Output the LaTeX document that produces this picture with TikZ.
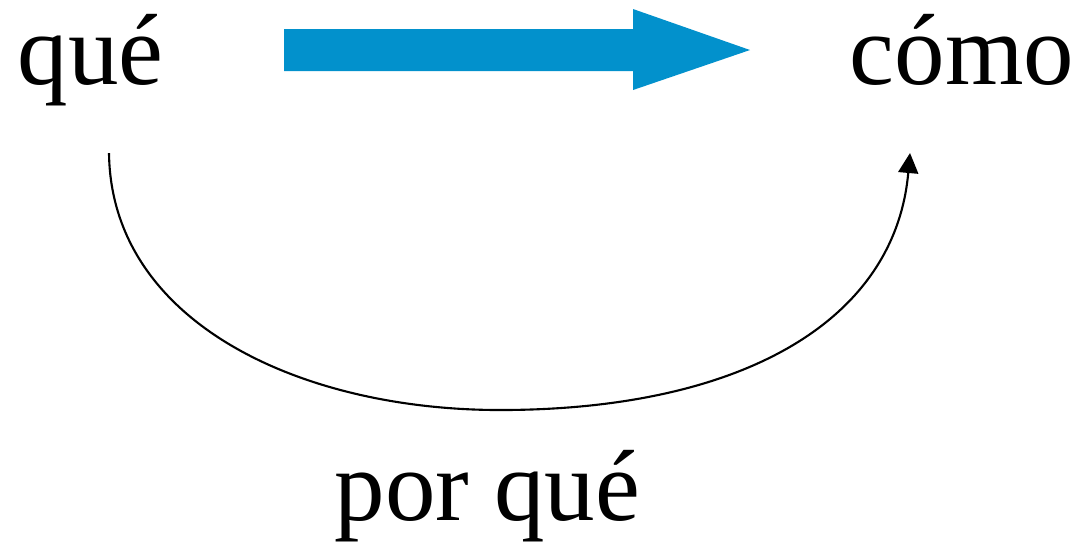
\documentclass[tikz,border=0pt]{standalone}
\usepackage{fontspec}
\setmainfont{Liberation Serif}
\usetikzlibrary{arrows.meta,calc}
\definecolor{arrowblue}{HTML}{0291CC}
\tikzset{
  word/.style={anchor=base west, inner sep=0pt, font=\fontsize{28.7}{34}\selectfont},
  curvearrow/.style={line width=0.6pt, -{Triangle[length=0.2cm,width=0.2cm]}},
  bigarrow/.style={fill=arrowblue, draw=none}
}
\begin{document}
\begin{tikzpicture}[x=0.01cm,y=-0.01cm]
\useasboundingbox (0,0) rectangle (1080,544);
\node[word] (que) at (17,84) {qué};
\node[word] (como) at (849,84) {cómo};
\node[word] (porque) at (334,520) {por qué};
% big blue arrow
\coordinate (bs) at (284,50);
\coordinate (be) at (750,50);
\fill[bigarrow] ($(bs)+(0,-21)$) -- (633,29) -- (633,9) -- (be) -- (633,90) -- (633,71) -- ($(bs)+(0,21)$) -- cycle;
% curved arrow
\coordinate (cs) at (109,153);
\coordinate (cm) at (500,410);
\coordinate (ce) at (910,153);
\draw[curvearrow] (cs) .. controls (111,322) and (300,410) .. (cm)
  .. controls (740,410) and (895,322) .. (ce);
\end{tikzpicture}
\end{document}
